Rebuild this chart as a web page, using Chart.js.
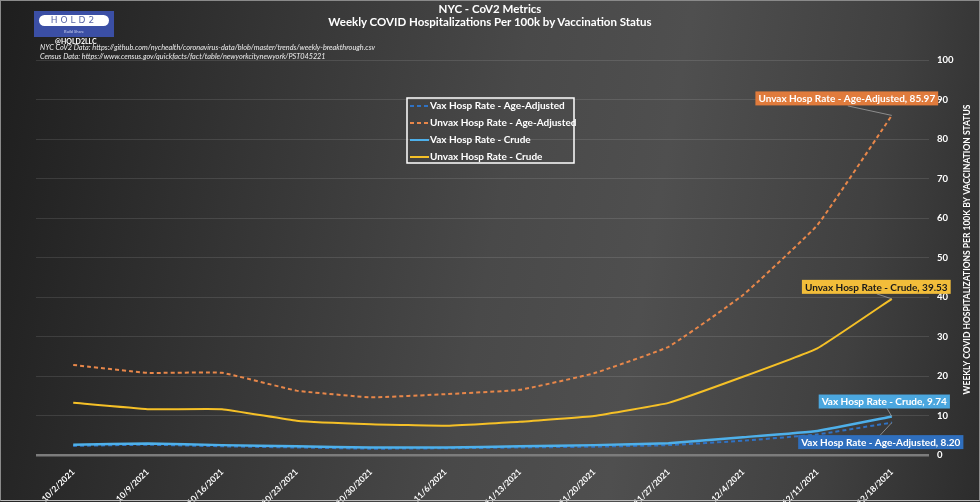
<!DOCTYPE html>
<html>
<head>
<meta charset="utf-8">
<script src="https://cdn.jsdelivr.net/npm/chart.js@4.4.1/dist/chart.umd.min.js"></script>
<style>
  html, body { margin: 0; padding: 0; background: #222; }
  #frame {
    position: relative; width: 980px; height: 502px;
    background: linear-gradient(100deg, #1e1e1e 0%, #343434 25%, #494949 50%, #4f4f4f 65%, #404040 85%, #2c2c2c 100%);
    font-family: Lato, "Open Sans", sans-serif; color: #fff; overflow: hidden;
  }
  #edge { position: absolute; left: 0; top: 0; width: 978px; height: 499px; border: 1px solid #8a8a8a;
    border-bottom-color: #bbb; pointer-events: none; }
  #chart { position: absolute; left: 0; top: 0; }
  .title { position: absolute; left: 0; width: 980px; text-align: center; font-weight: bold; font-size: 11.5px; }
  #logo { position: absolute; left: 34px; top: 11px; width: 80px; height: 26px; background: #3b4fa5; }
  #logo .pill { position: absolute; left: 5px; top: 4px; width: 70px; height: 11px; background: #fff; border-radius: 6px;
    color: #5a67a8; font-size: 9px; line-height: 11px; text-align: center; letter-spacing: 3px; font-family: "DejaVu Sans"; }
  #logo .sub { position: absolute; left: 0; top: 18px; width: 80px; text-align: center; font-size: 4px; color: #c8d0f0; }
  #handle { position: absolute; left: 55px; top: 37px; font-size: 7px; font-weight: bold; }
  .src { position: absolute; left: 40px; font-size: 7.3px; font-style: italic; color: #eee; }
</style>
</head>
<body>
<div id="frame">
  <canvas id="chart" width="980" height="502"></canvas>
  <div class="title" style="top:2px">NYC - CoV2 Metrics</div>
  <div class="title" style="top:15px">Weekly COVID Hospitalizations Per 100k by Vaccination Status</div>
  <div id="logo"><div class="pill">HOLD2</div><div class="sub">Build Share</div></div>
  <div id="handle">@HOLD2LLC</div>
  <div class="src" style="top:43px">NYC CoV2 Data: https://github.com/nychealth/coronavirus-data/blob/master/trends/weekly-breakthrough.csv</div>
  <div class="src" style="top:52px">Census Data: https://www.census.gov/quickfacts/fact/table/newyorkcitynewyork/PST045221</div>
  <div id="edge"></div>
</div>
<script>
// --- Данные (недели) ---
const weeks = ["10/2/2021", "10/9/2021", "10/16/2021", "10/23/2021", "10/30/2021", "11/6/2021",
  "11/13/2021", "11/20/2021", "11/27/2021", "12/4/2021", "12/11/2021", "12/18/2021"];

const vaxAgeAdjusted = [2.3, 2.6, 2.2, 1.9, 1.6, 1.7, 1.9, 2.1, 2.5, 3.6, 5.2, 8.20];
const unvaxAgeAdjusted = [22.8, 20.8, 20.8, 16.3, 14.6, 15.4, 16.5, 20.7, 27.4, 40.5, 58.2, 85.97];
const vaxCrude = [2.6, 2.9, 2.5, 2.2, 1.9, 1.9, 2.2, 2.5, 3.0, 4.5, 6.1, 9.74];
const unvaxCrude = [13.2, 11.6, 11.6, 8.7, 7.8, 7.4, 8.4, 9.9, 13.2, 19.8, 27.0, 39.53];

const yTicks = [0, 10, 20, 30, 40, 50, 60, 70, 80, 90, 100];
const yTitle = "WEEKLY COVID HOSPITALIZATIONS PER 100K BY VACCINATION STATUS";

const FONT = "Lato, 'Open Sans', sans-serif";

// --- Подписи у последних точек (смещения в пикселях) ---
const endLabelStyle = [
  { bg: "#2f6fbe", fg: "#fff", dx: -11, dy: 19.5, lx: -12, ly: 13 },
  { bg: "#e07b3c", fg: "#fff", dx: -45, dy: -17, lx: -44, ly: -9.5 },
  { bg: "#4ba7df", fg: "#fff", dx: -7.5, dy: -15, lx: -5, ly: -8.5 },
  { bg: "#f2bd3a", fg: "#1a1a1a", dx: -15.5, dy: -12, lx: -15, ly: -5 },
];

// --- Плагин: подписи значений ---
const endLabels = {
  id: "endLabels",
  afterDatasetsDraw(chart) {
    const ctx = chart.ctx;
    ctx.save();
    ctx.font = `bold 10px ${FONT}`;
    ctx.textAlign = "center";
    ctx.textBaseline = "middle";
    chart.data.datasets.forEach((ds, i) => {
      const meta = chart.getDatasetMeta(i);
      const pt = meta.data[meta.data.length - 1];
      const st = endLabelStyle[i];
      const text = `${ds.label}, ${ds.data[ds.data.length - 1].toFixed(2)}`;
      const w = ctx.measureText(text).width + 6;
      const h = 14;
      const cx = pt.x + st.dx, cy = pt.y + st.dy;
      ctx.strokeStyle = "#a0a0a0";
      ctx.lineWidth = 0.8;
      ctx.beginPath();
      ctx.moveTo(pt.x + st.lx, pt.y + st.ly);
      ctx.lineTo(pt.x, pt.y);
      ctx.stroke();
      ctx.fillStyle = st.bg;
      ctx.fillRect(cx - w / 2, cy - h / 2, w, h);
      ctx.fillStyle = st.fg;
      ctx.fillText(text, cx, cy + 0.5);
    });
    ctx.restore();
  },
};

// --- Плагин: легенда в рамке + подпись оси Y ---
const boxLegend = {
  id: "boxLegend",
  afterDraw(chart) {
    const ctx = chart.ctx;
    ctx.save();
    ctx.strokeStyle = "#fff";
    ctx.lineWidth = 1.5;
    ctx.strokeRect(407, 98, 167, 65);
    ctx.font = `bold 10px ${FONT}`;
    ctx.textBaseline = "middle";
    chart.data.datasets.forEach((ds, i) => {
      const y = 106 + i * 17;
      ctx.strokeStyle = ds.borderColor;
      ctx.lineWidth = 2;
      ctx.setLineDash(ds.borderDash || []);
      ctx.beginPath();
      ctx.moveTo(410, y);
      ctx.lineTo(429, y);
      ctx.stroke();
      ctx.setLineDash([]);
      ctx.fillStyle = "#fff";
      ctx.fillText(ds.label, 430, y);
    });
    // подпись оси (снизу вверх)
    const a = chart.chartArea;
    ctx.translate(a.right + 38, (a.top + a.bottom) / 2 - 8);
    ctx.rotate(-Math.PI / 2);
    ctx.textAlign = "center";
    ctx.font = `bold 8.5px ${FONT}`;
    ctx.fillText(yTitle, 0, 0);
    ctx.restore();
  },
};

// --- Построение графика ---
const ctx = document.getElementById("chart").getContext("2d");
new Chart(ctx, {
  type: "line",
  data: {
    labels: weeks,
    datasets: [
      { label: "Vax Hosp Rate - Age-Adjusted", data: vaxAgeAdjusted, borderColor: "#2f72c4",
        borderDash: [4, 3], order: 3 },
      { label: "Unvax Hosp Rate - Age-Adjusted", data: unvaxAgeAdjusted, borderColor: "#e8874a",
        borderDash: [4, 3], order: 2 },
      { label: "Vax Hosp Rate - Crude", data: vaxCrude, borderColor: "#4eb0ea", borderWidth: 2.5, order: 1 },
      { label: "Unvax Hosp Rate - Crude", data: unvaxCrude, borderColor: "#f5c027", order: 0 },
    ],
  },
  options: {
    responsive: false,
    animation: false,
    layout: { padding: { left: 36, top: 60, right: 0, bottom: 0 } },
    elements: {
      line: { borderWidth: 2, tension: 0.1, fill: false },
      point: { radius: 0 },
    },
    plugins: { legend: { display: false }, tooltip: { enabled: false } },
    scales: {
      x: {
        offset: true,
        grid: { display: false },
        border: { display: false },
        ticks: { color: "#fff", font: { family: FONT, size: 8.5, weight: "bold" },
          minRotation: 45, maxRotation: 45, padding: 4, autoSkip: false },
        afterFit: (s) => { s.height = 47; },
      },
      y: {
        position: "right",
        min: 0,
        max: 100,
        afterBuildTicks: (s) => { s.ticks = yTicks.map((v) => ({ value: v })); },
        grid: {
          drawTicks: false,
          color: (c) => (c.tick && c.tick.value === 0 ? "#7c7c7c" : "rgba(255,255,255,0.11)"),
          lineWidth: (c) => (c.tick && c.tick.value === 0 ? 2.5 : 1),
        },
        border: { display: false },
        ticks: { color: "#fff", padding: 8, font: { family: FONT, size: 9.5, weight: "bold" } },
        afterFit: (s) => { s.width = 51; },
      },
    },
  },
  plugins: [endLabels, boxLegend],
});
</script>
</body>
</html>
